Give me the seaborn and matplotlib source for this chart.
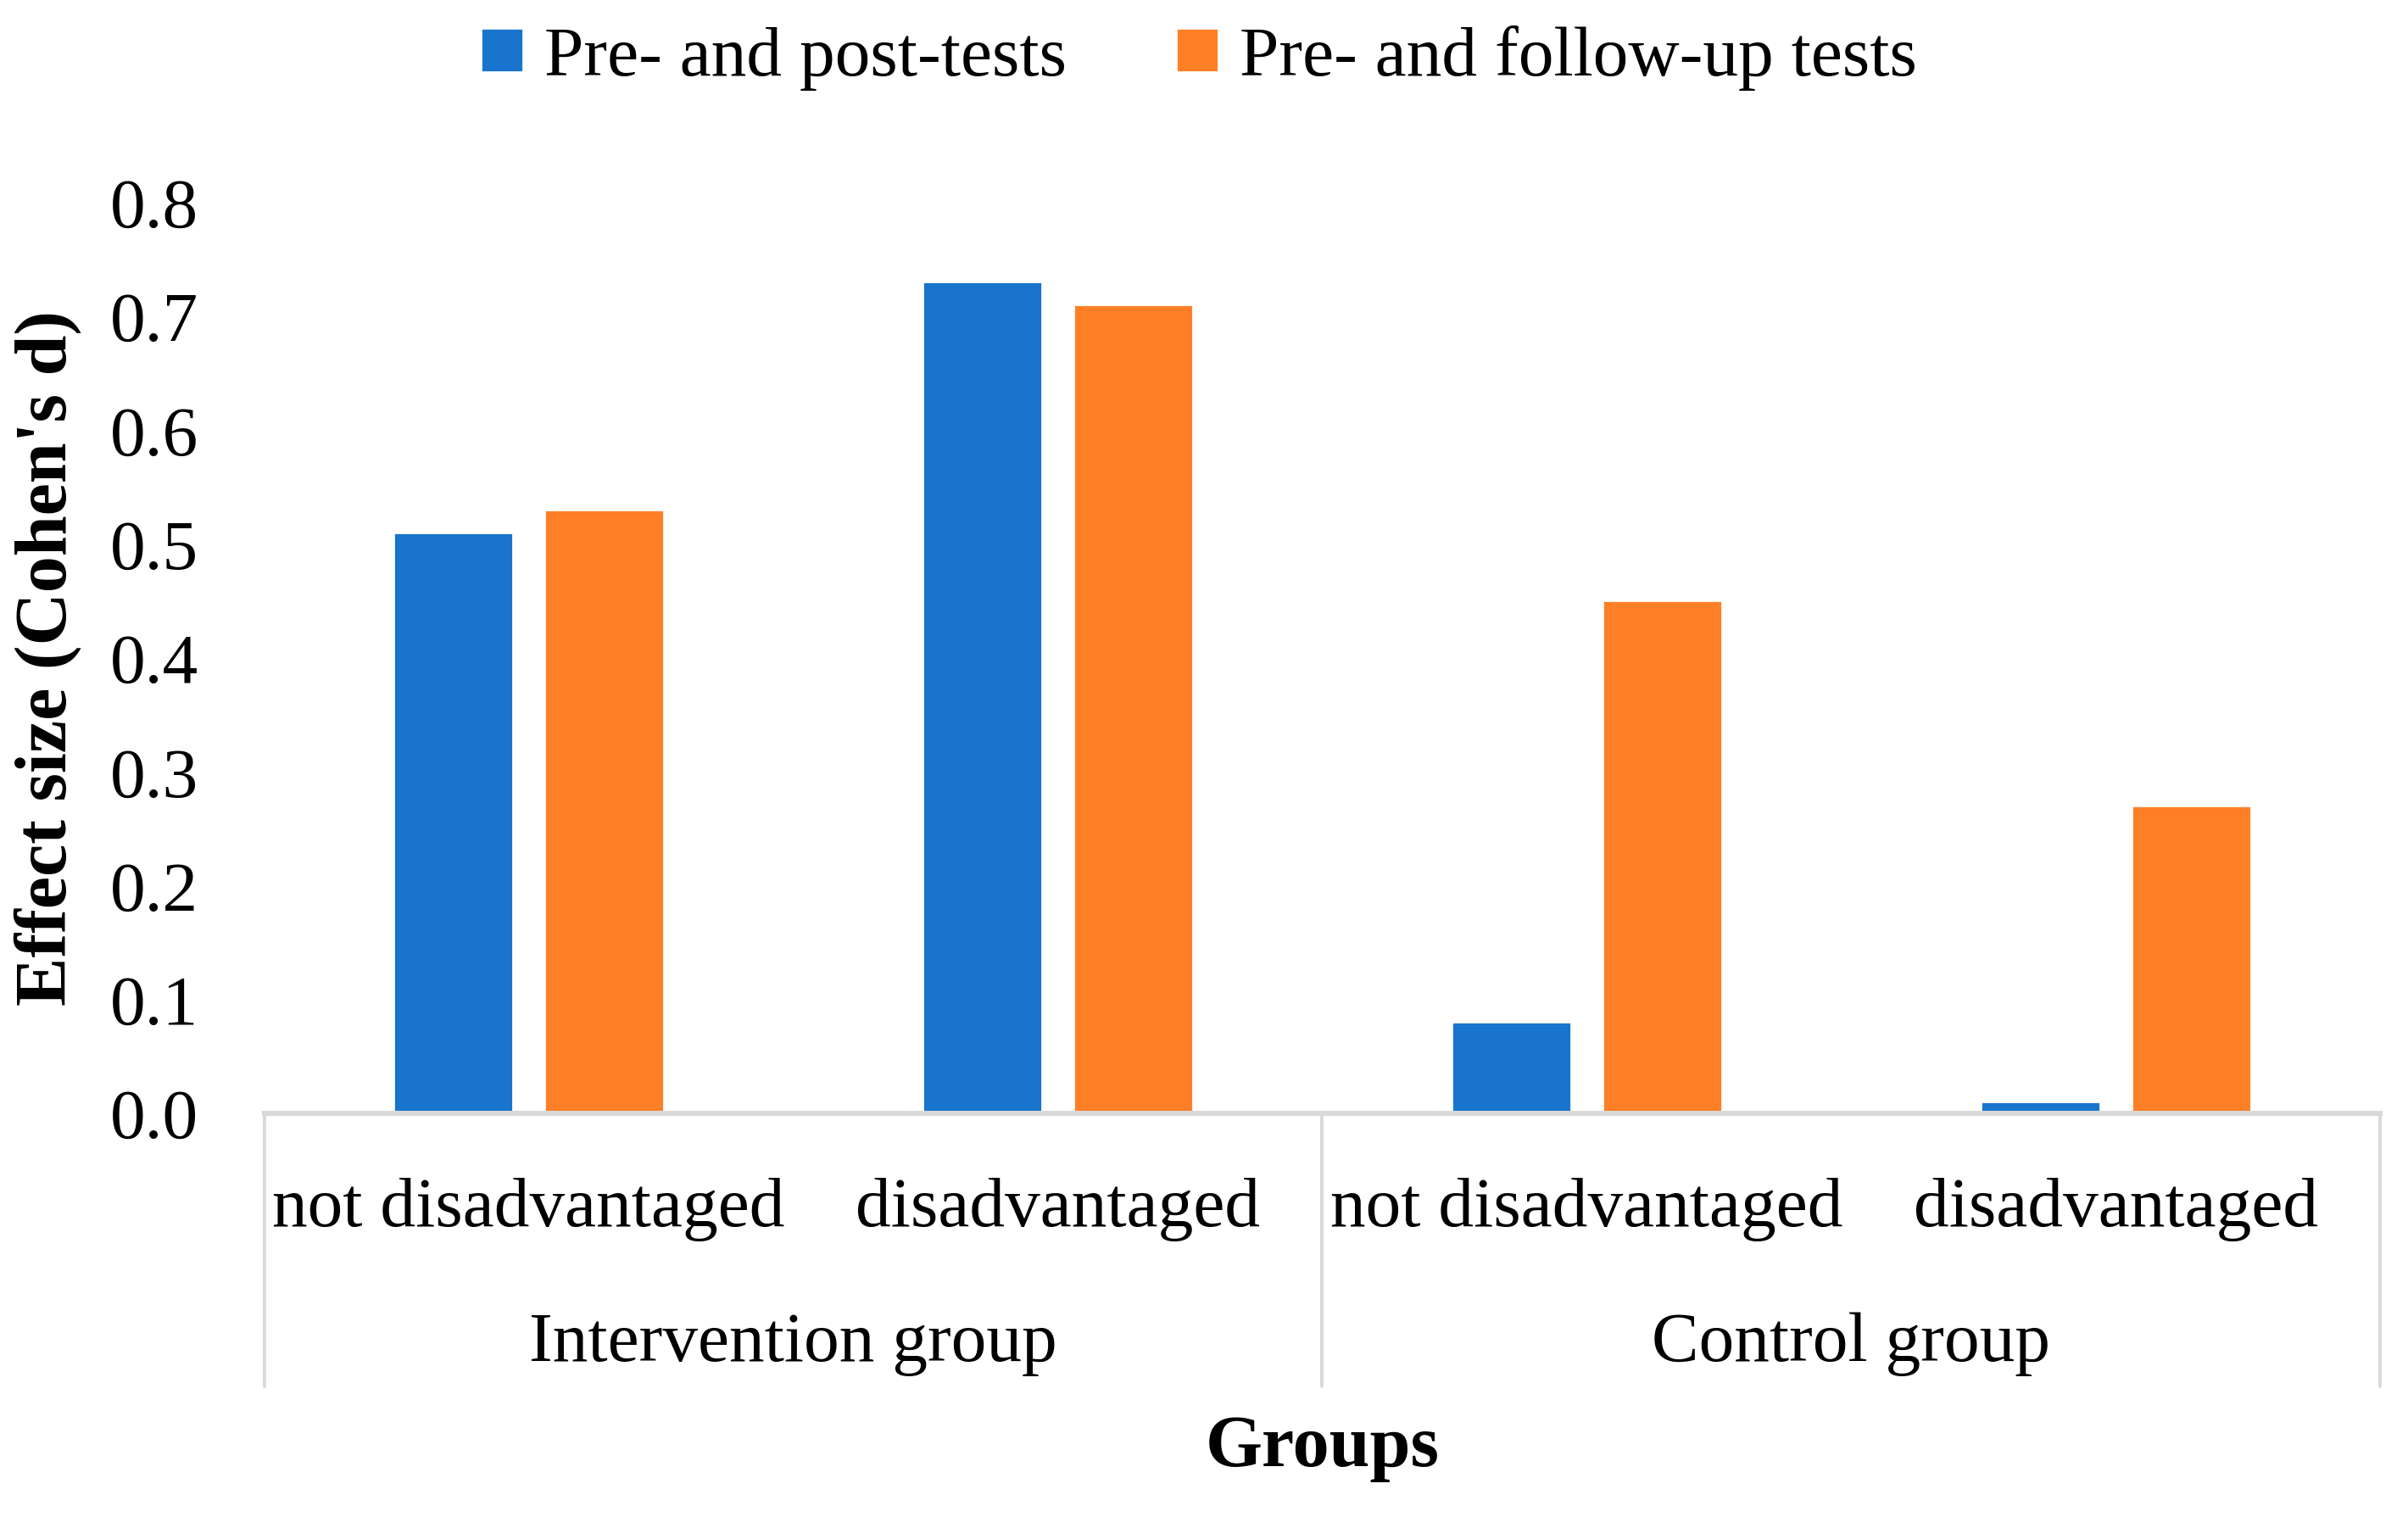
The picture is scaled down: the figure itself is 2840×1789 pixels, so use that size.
import pandas as pd
import matplotlib
matplotlib.use("Agg")
import matplotlib.pyplot as plt
import seaborn as sns

# data
groups = ["Intervention group", "Intervention group", "Control group", "Control group"]
subgroups = ["not disadvantaged", "disadvantaged", "not disadvantaged", "disadvantaged"]
series = ["Pre- and post-tests", "Pre- and follow-up tests"]
post_values = [0.51, 0.73, 0.08, 0.01]
followup_values = [0.53, 0.71, 0.45, 0.27]
yticks = [0.0, 0.1, 0.2, 0.3, 0.4, 0.5, 0.6, 0.7, 0.8]
colors = ["#1874CD", "#FF7F27"]

sns.set_style("white")
plt.rcParams["font.family"] = ["Liberation Serif", "DejaVu Serif"]
plt.rcParams["text.color"] = "black"
plt.rcParams["axes.labelcolor"] = "black"
plt.rcParams["ytick.color"] = "black"
plt.rcParams["xtick.color"] = "black"

# long format frame, one row per bar
keys = [f"{g}|{s}" for g, s in zip(groups, subgroups)]
rows = []
for k, v in zip(keys, post_values):
    rows.append({"cat": k, "series": series[0], "value": v})
for k, v in zip(keys, followup_values):
    rows.append({"cat": k, "series": series[1], "value": v})
df = pd.DataFrame(rows)

fig = plt.figure(figsize=(14.2, 8.95), dpi=200)
ax = fig.add_axes([0.1097, 0.2662, 0.8788, 0.6002])

sns.barplot(data=df, x="cat", y="value", hue="series", order=keys,
            hue_order=series, palette=colors, width=0.57, gap=0.21,
            saturation=1, ax=ax, legend=True)

fs = 30
ax.set_xlim(-0.5, len(keys) - 0.5)
ax.set_ylim(0, 0.8)
ax.set_yticks(yticks)
ax.set_yticklabels([f"{t:.1f}" for t in yticks], fontsize=fs)
ax.set_xticks(range(len(keys)))
ax.set_xticklabels([])
ax.tick_params(axis="both", length=0)
ax.tick_params(axis="y", pad=28)

for side in ["left", "right", "top"]:
    ax.spines[side].set_visible(False)
ax.spines["bottom"].set_color("#D9D9D9")
ax.spines["bottom"].set_linewidth(2.2)

# sub-category labels
trans = ax.get_xaxis_transform()
for i, s in enumerate(subgroups):
    ax.text(i, -0.105, s, transform=trans, ha="center", va="center", fontsize=fs)

# group labels and separator lines
names = list(dict.fromkeys(groups))
for name in names:
    idx = [i for i, g in enumerate(groups) if g == name]
    ax.text(sum(idx) / len(idx), -0.253, name, transform=trans,
            ha="center", va="center", fontsize=fs)
seps = [-0.5]
for i in range(1, len(groups)):
    if groups[i] != groups[i - 1]:
        seps.append(i - 0.5)
seps.append(len(groups) - 0.5)
for x in seps:
    ax.plot([x, x], [0, -0.30], transform=trans, color="#D9D9D9",
            lw=1.4, clip_on=False)

ax.set_xlabel("")
ax.text(0.5, -0.368, "Groups", transform=ax.transAxes, ha="center",
        va="center", fontsize=fs + 1, fontweight="bold")
ax.set_ylabel("Effect size (Cohen's d)", fontsize=fs + 1, fontweight="bold")
ax.yaxis.set_label_coords(-0.086, 0.5)

ax.legend(loc="center", bbox_to_anchor=(0.498, 0.9615),
          bbox_transform=fig.transFigure, ncol=2, frameon=False,
          fontsize=fs, handlelength=0.6, handleheight=0.6,
          handletextpad=0.3, columnspacing=1.55)

fig.savefig("out.png", dpi=200)
